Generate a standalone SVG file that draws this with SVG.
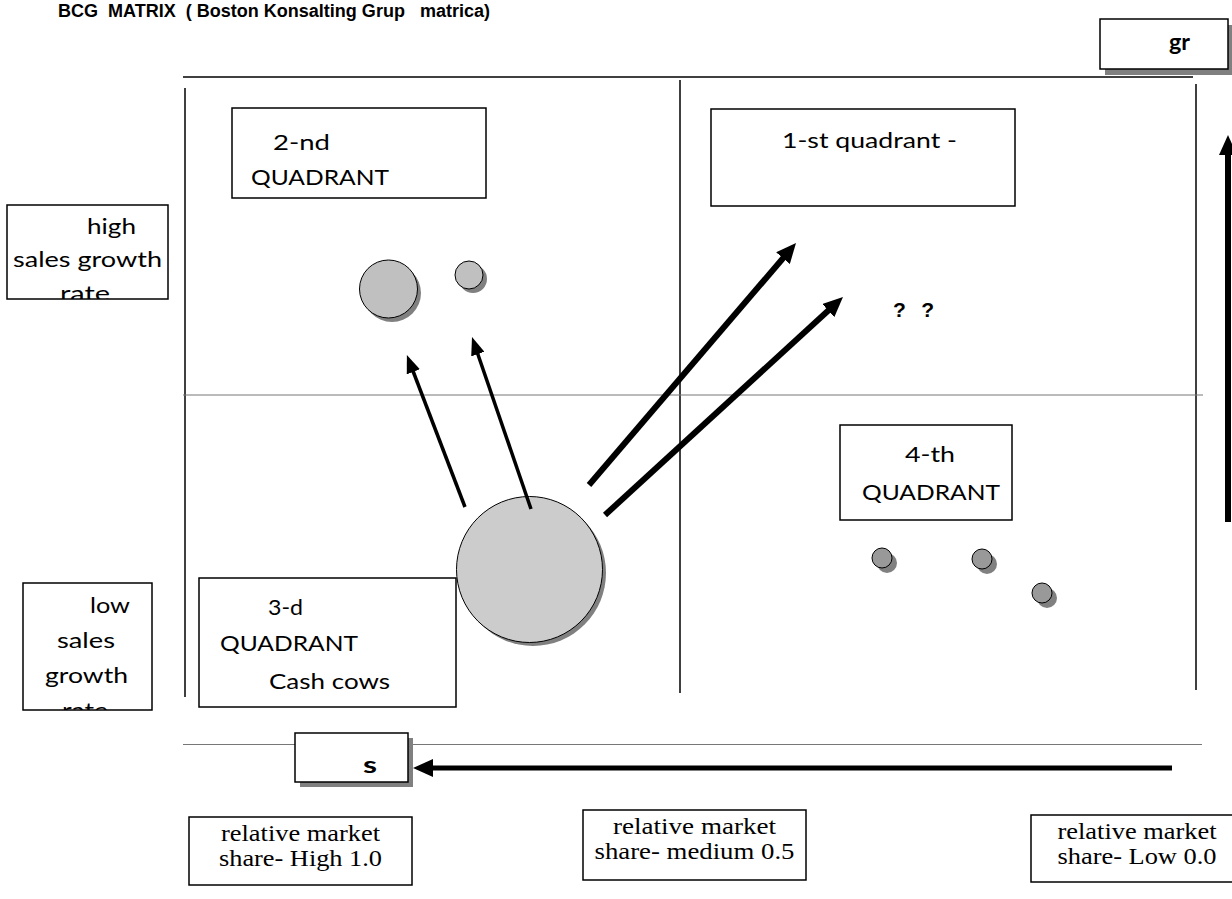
<svg xmlns="http://www.w3.org/2000/svg" width="1232" height="899" viewBox="0 0 1232 899">
<style>
.box{fill:#fff;stroke:#000;stroke-width:1.5}
.shadow{fill:#808080;stroke:none}
.cal{font-family:Lato,"Open Sans","Liberation Sans",sans-serif;font-size:22px;fill:#000}
.calb{font-family:Lato,"Open Sans","Liberation Sans",sans-serif;font-size:22px;font-weight:bold;fill:#000}
.tim{font-family:"Liberation Serif","Times New Roman",serif;font-size:24px;fill:#000}
.title{font-family:"Liberation Sans Narrow","Liberation Sans",Arial,sans-serif;font-size:18px;font-weight:bold;fill:#000;white-space:pre}
.grid{stroke:#000;stroke-width:1.5}
.gridg{stroke:#777;stroke-width:1}
.arr{stroke:#000;fill:none}
.ball{stroke:#000;stroke-width:1}
</style>
<defs>
<marker id="hs" viewBox="0 0 18 14" refX="2" refY="7" markerWidth="18" markerHeight="14" markerUnits="userSpaceOnUse" orient="auto"><path d="M0,0 L18,7 L0,14 z" fill="#000"/></marker>
<marker id="hl" viewBox="0 0 20 18" refX="2" refY="9" markerWidth="20" markerHeight="18" markerUnits="userSpaceOnUse" orient="auto"><path d="M0,0 L20,9 L0,18 z" fill="#000"/></marker>
<clipPath id="clipHigh"><rect x="7" y="205" width="161" height="94"/></clipPath>
<clipPath id="clipLow"><rect x="23" y="583" width="129" height="127"/></clipPath>
</defs>
<rect width="1232" height="899" fill="#fff"/>

<text id="title" class="title" x="58" y="17" textLength="432" lengthAdjust="spacingAndGlyphs">BCG  MATRIX  ( Boston Konsalting Grup   matrica)</text>

<g id="grid">
<line class="grid" x1="183" y1="77" x2="1193" y2="77"/>
<line class="grid" x1="185" y1="88" x2="185" y2="697"/>
<line class="grid" x1="680" y1="80" x2="680" y2="693"/>
<line class="grid" x1="1196" y1="84" x2="1196" y2="690"/>
<line class="gridg" x1="183" y1="395" x2="1203" y2="395"/>
<line class="gridg" x1="183" y1="744.5" x2="1202" y2="744.5"/>
</g>

<g id="gr">
<rect class="shadow" x="1105" y="25" width="128" height="50"/>
<rect class="box" x="1100" y="19" width="128" height="50"/>
<text class="calb" x="1169" y="50" textLength="21" lengthAdjust="spacingAndGlyphs">gr</text>
</g>

<g id="q2">
<rect class="box" x="232" y="108" width="254" height="90"/>
<text class="cal" x="273" y="150" textLength="57" lengthAdjust="spacingAndGlyphs">2-nd</text>
<text class="cal" x="251" y="185" textLength="138" lengthAdjust="spacingAndGlyphs">QUADRANT</text>
</g>

<g id="q1">
<rect class="box" x="711" y="109" width="304" height="97"/>
<text class="cal" x="782" y="148" textLength="175" lengthAdjust="spacingAndGlyphs">1-st quadrant -</text>
</g>

<g id="high">
<rect class="box" x="7" y="205" width="161" height="94"/>
<g clip-path="url(#clipHigh)">
<text class="cal" x="87" y="234" textLength="49" lengthAdjust="spacingAndGlyphs">high</text>
<text class="cal" x="13" y="267" textLength="149" lengthAdjust="spacingAndGlyphs">sales growth</text>
<text class="cal" x="60" y="301" textLength="50" lengthAdjust="spacingAndGlyphs">rate</text>
</g>
</g>

<g id="low">
<rect class="box" x="23" y="583" width="129" height="127"/>
<g clip-path="url(#clipLow)">
<text class="cal" x="90" y="613" textLength="40" lengthAdjust="spacingAndGlyphs">low</text>
<text class="cal" x="57" y="648" textLength="58" lengthAdjust="spacingAndGlyphs">sales</text>
<text class="cal" x="45" y="683" textLength="83" lengthAdjust="spacingAndGlyphs">growth</text>
<text class="cal" x="62" y="718" textLength="46" lengthAdjust="spacingAndGlyphs">rate</text>
</g>
</g>

<g id="q3">
<rect class="box" x="199" y="578" width="257" height="129"/>
<text class="cal" x="268" y="615" textLength="35" lengthAdjust="spacingAndGlyphs">3-d</text>
<text class="cal" x="220" y="651" textLength="138" lengthAdjust="spacingAndGlyphs">QUADRANT</text>
<text class="cal" x="269" y="689" textLength="121" lengthAdjust="spacingAndGlyphs">Cash cows</text>
</g>

<g id="q4">
<rect class="box" x="840" y="425" width="172" height="95"/>
<text class="cal" x="905" y="462" textLength="50" lengthAdjust="spacingAndGlyphs">4-th</text>
<text class="cal" x="862" y="500" textLength="138" lengthAdjust="spacingAndGlyphs">QUADRANT</text>
</g>

<g id="question">
<text x="893" y="317" font-family="'Liberation Sans',Arial,sans-serif" font-size="21" font-weight="bold" textLength="41" lengthAdjust="spacing" style="white-space:pre">? ?</text>
</g>

<g id="bigCircle">
<circle class="shadow" cx="533" cy="573" r="73"/>
<circle class="ball" cx="529.5" cy="569.5" r="73" fill="#cccccc"/>
</g>
<g id="circleMid">
<circle class="shadow" cx="392" cy="293" r="29"/>
<circle class="ball" cx="388.5" cy="289" r="29" fill="#c0c0c0"/>
</g>
<g id="circleSmall">
<circle class="shadow" cx="473" cy="279" r="14"/>
<circle class="ball" cx="469" cy="275" r="14" fill="#c0c0c0"/>
</g>
<g id="dot1">
<circle class="shadow" cx="887" cy="563" r="10"/>
<circle class="ball" cx="882" cy="558" r="10" fill="#999999"/>
</g>
<g id="dot2">
<circle class="shadow" cx="987" cy="564" r="10"/>
<circle class="ball" cx="982" cy="559" r="10" fill="#999999"/>
</g>
<g id="dot3">
<circle class="shadow" cx="1047" cy="598" r="10"/>
<circle class="ball" cx="1042" cy="593" r="10" fill="#999999"/>
</g>

<g id="s">
<rect class="shadow" x="300" y="738" width="113" height="49"/>
<rect class="box" x="295" y="733" width="113" height="49"/>
<text class="calb" x="363" y="773" textLength="14" lengthAdjust="spacingAndGlyphs">s</text>
</g>

<g id="share-high">
<rect class="box" x="189" y="817" width="223" height="68"/>
<text class="tim" x="300.5" y="841" text-anchor="middle" textLength="159" lengthAdjust="spacingAndGlyphs">relative market</text>
<text class="tim" x="300.5" y="866" text-anchor="middle" textLength="163" lengthAdjust="spacingAndGlyphs">share- High 1.0</text>
</g>
<g id="share-medium">
<rect class="box" x="583" y="810" width="223" height="70"/>
<text class="tim" x="694.5" y="834" text-anchor="middle" textLength="163" lengthAdjust="spacingAndGlyphs">relative market</text>
<text class="tim" x="694.5" y="859" text-anchor="middle" textLength="200" lengthAdjust="spacingAndGlyphs">share- medium 0.5</text>
</g>
<g id="share-low">
<rect class="box" x="1031" y="815" width="223" height="67"/>
<text class="tim" x="1137" y="839" text-anchor="middle" textLength="159" lengthAdjust="spacingAndGlyphs">relative market</text>
<text class="tim" x="1137" y="864" text-anchor="middle" textLength="159" lengthAdjust="spacingAndGlyphs">share- Low 0.0</text>
</g>

<g id="connectors">
<line class="arr" stroke-width="3.5" x1="465" y1="507" x2="412.6" y2="370" marker-end="url(#hs)"/>
<line class="arr" stroke-width="3.5" x1="531" y1="509" x2="477.2" y2="352.2" marker-end="url(#hs)"/>
<line class="arr" stroke-width="6" x1="589" y1="485" x2="784.3" y2="256.7" marker-end="url(#hl)"/>
<line class="arr" stroke-width="6" x1="605" y1="515" x2="829.7" y2="309.2" marker-end="url(#hl)"/>
<line class="arr" stroke-width="6" x1="1228" y1="522" x2="1228" y2="153" marker-end="url(#hl)"/>
<line class="arr" stroke-width="5" x1="1172" y1="768" x2="431" y2="768" marker-end="url(#hl)"/>
</g>
</svg>
